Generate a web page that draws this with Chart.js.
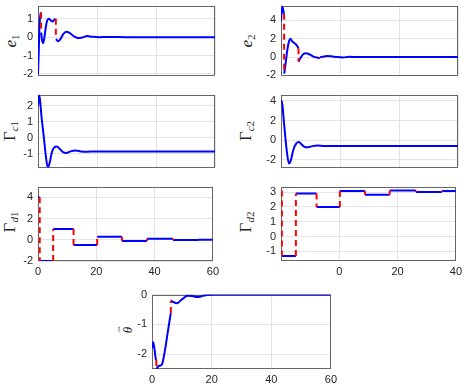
<!DOCTYPE html>
<html>
<head>
<meta charset="utf-8">
<script src="https://cdn.jsdelivr.net/npm/chart.js@4"></script>
<style>
body { margin: 0; background: #fff; }
#fig { position: relative; width: 463px; height: 386px; overflow: hidden; }
#fig canvas { position: absolute; }
.ylab { position: absolute; transform: translate(-50%, -50%) rotate(-90deg); font-family: 'Liberation Serif', serif; font-size: 17px; color: #262626; white-space: nowrap; line-height: 1; }
.ylab sub { font-size: 11px; vertical-align: -3px; }
.acc { position: relative; display: inline-block; font-style: italic; }
.til { position: absolute; left: 1px; top: -8px; font-size: 11px; font-style: normal; }
</style>
</head>
<body>
<div id="fig">
  <div class="ylab" style="left:11px;top:41px"><i>e</i><sub>1</sub></div>
  <div class="ylab" style="left:247px;top:41px"><i>e</i><sub>2</sub></div>
  <div class="ylab" style="left:10px;top:131px">Γ<sub><i>c</i>1</sub></div>
  <div class="ylab" style="left:246px;top:131px">Γ<sub><i>c</i>2</sub></div>
  <div class="ylab" style="left:10px;top:222px">Γ<sub><i>d</i>1</sub></div>
  <div class="ylab" style="left:246px;top:222px">Γ<sub><i>d</i>2</sub></div>
  <div class="ylab" style="left:127px;top:330px;font-size:13px"><span class="acc">θ<span class="til">~</span></span></div>
</div>
<script>
// x axis (time) ticks
const xTicks = [0, 20, 40, 60];
const xLabelsLeft = ["0", "20", "40", "60"];
const xLabelsRight = ["", "0", "20", "40"];

// e1
const e1T = [0, 0.25, 0.5, 0.8, 1.0, null, 1.1, 1.4, 1.7, 2.1, 2.6, 3.1, 3.7, 4.3, 5.0, 5.5, 6.0, null,
             6.1, 6.8, 7.6, 8.6, 9.6, 10.8, 12.2, 13.6, 15, 16.6, 18.3, 20.5, 24, 30, 40, 50, 60];
const e1Y = [-2, -0.8, 0.6, 1.2, 1.35, null, 0.25, -0.2, -0.33, -0.1, 0.5, 0.9, 1.0, 0.92, 0.85, 0.95, 1.0, null,
             -0.1, -0.22, -0.1, 0.18, 0.3, 0.22, 0.05, -0.05, -0.02, 0.06, 0.03, 0, 0.01, 0, 0, 0, 0];
const e1JumpT = [1.05, 1.05, null, 6.05, 6.05];
const e1JumpY = [1.35, 0.25, null, 1.0, 0.0];

// e2
const e2T = [0, 0.25, 0.45, 0.7, 1.0, null, 1.1, 1.6, 2.2, 2.8, 3.2, 3.8, 4.4, 5.0, 5.5, 5.9, null,
             5.95, 6.6, 7.5, 8.5, 9.6, 11, 12.5, 13.2, null, 13.25, 14.2, 15.5, 17, 19, 21, 23, 26, 40, 60];
const e2Y = [3.9, 5.0, 5.5, 5.2, 4.7, null, -1.8, -0.6, 0.9, 1.8, 2.0, 1.7, 1.55, 1.4, 1.2, 0.95, null,
             -0.5, -0.1, 0.3, 0.4, 0.3, 0.05, -0.08, -0.12, null, -0.02, 0.03, 0.1, 0.08, 0, -0.04, 0.02, 0, 0, 0];
const e2JumpT = [1.05, 1.05, null, 5.92, 5.92, null, 13.22, 13.22];
const e2JumpY = [4.7, -1.8, null, 0.95, -0.5, null, -0.12, -0.02];

// Gamma_c1, Gamma_c2
const gc1T = [0, 0.3, 0.6, 1.2, 2.0, 2.7, 3.3, 3.9, 4.7, 5.5, 6.4, 7.4, 8.5, 9.6, 11, 12.8, 14.5, 16.5, 20, 30, 45, 60];
const gc1Y = [2.0, 2.65, 2.5, 1.3, 0.0, -1.2, -1.85, -1.6, -0.9, -0.6, -0.55, -0.7, -0.9, -0.95, -0.85, -0.8, -0.85, -0.87, -0.85, -0.85, -0.85, -0.85];
const gc2T = [0, 0.3, 0.8, 1.4, 2.0, 2.7, 3.3, 4.2, 5.2, 6.1, 7.0, 8.0, 8.9, 10.2, 12.3, 14.5, 17, 25, 40, 60];
const gc2Y = [4.0, 4.0, 2.5, 0.5, -1.2, -2.4, -2.1, -1.0, -0.35, -0.2, -0.45, -0.7, -0.75, -0.65, -0.55, -0.6, -0.62, -0.6, -0.6, -0.6];

// Gamma_d1, Gamma_d2 (piecewise constant)
const gd1Switch = [0.6, 5.2, 12.2, 20.3, 28.8, 37.4, 46.3, 55];
const gd1Level = [4, -2, 1, -0.5, 0.27, -0.12, 0.09, -0.03, 0];
const gd2Switch = [0.3, 5.1, 12.2, 20.2, 28.8, 37.3, 46.3, 55.2];
const gd2Level = [3.1, -1.32, 2.9, 2.0, 3.08, 2.82, 3.1, 3.0, 3.08];

// theta tilde
const thT = [0, 0.4, 0.8, 1.2, 1.4, null, 1.5, 2.2, 3.3, 4.3, 5.3, 6.3, null,
             6.35, 7.2, 8.4, 9.6, 10.8, 11.9, 13.5, 15.2, 16.8, 18.5, 21, 30, 45, 60];
const thY = [-1.8, -1.6, -1.8, -2.12, -2.2, null, -2.5, -2.4, -2.35, -1.9, -1.25, -0.62, null,
             -0.2, -0.25, -0.29, -0.2, -0.1, -0.04, -0.05, -0.08, -0.05, -0.01, 0, 0, 0, 0];
const thJumpT = [1.45, 1.45, null, 6.32, 6.32];
const thJumpY = [-2.2, -2.5, null, -0.62, -0.2];

function pts(T, Y) {
    return T.map((t, i) => ({ x: t, y: Y[i] }));
}

// blue horizontal pieces and red vertical jumps from switch times / levels
function stepPieces(sw, lv) {
    const blue = [], red = [];
    lv.forEach((v, i) => {
        const a = i === 0 ? 0 : sw[i - 1];
        const b = i === sw.length ? 60 : sw[i];
        blue.push({ x: a, y: v }, { x: b, y: v }, { x: null, y: null });
        if (i < sw.length) red.push({ x: sw[i], y: v }, { x: sw[i], y: lv[i + 1] }, { x: null, y: null });
    });
    return [blue, red];
}

const frame = {
    id: "frame",
    beforeDatasetsDraw(chart) {
        const { ctx, chartArea: a } = chart;
        ctx.save();
        ctx.strokeStyle = "#666666";
        ctx.lineWidth = 1;
        ctx.strokeRect(Math.round(a.left) + 0.5, Math.round(a.top) + 0.5,
                       Math.round(a.right - a.left) - 1, Math.round(a.bottom - a.top) - 1);
        ctx.restore();
    }
};

const tickFont = { family: "'Liberation Sans', Arial, sans-serif", size: 11 };
const fig = document.getElementById("fig");

function panel(box, yMin, yMax, yTicks, xLabels, blue, red, smooth) {
    const [l, t, r, b] = box;
    const padL = 34, padT = 8, padR = 8, padB = xLabels ? 16 : 8;
    const c = document.createElement("canvas");
    c.width = r - l + padL + padR;
    c.height = b - t + padT + padB;
    c.style.left = (l - padL) + "px";
    c.style.top = (t - padT) + "px";
    fig.appendChild(c);

    new Chart(c, {
        type: "line",
        data: {
            datasets: [{
                data: blue,
                borderColor: "#0000ff",
                borderWidth: 2,
                pointRadius: 0,
                cubicInterpolationMode: smooth ? "monotone" : "default",
                tension: 0,
                order: 2
            }, {
                data: red,
                borderColor: "#ff0000",
                borderWidth: 2,
                borderDash: [6, 4],
                pointRadius: 0,
                order: 1
            }]
        },
        options: {
            responsive: false,
            animation: false,
            events: [],
            layout: { padding: { left: 0, top: padT, right: padR, bottom: xLabels ? 0 : padB } },
            plugins: { legend: { display: false }, tooltip: { enabled: false } },
            scales: {
                x: {
                    type: "linear", min: 0, max: 60,
                    afterBuildTicks: s => { s.ticks = xTicks.map(v => ({ value: v })); },
                    afterFit: s => { s.height = xLabels ? 16 : 0; },
                    grid: { color: "#e4e4e4", drawTicks: false },
                    border: { display: false },
                    ticks: {
                        display: !!xLabels, padding: 4, color: "#262626", font: tickFont,
                        maxRotation: 0, autoSkip: false,
                        callback: (v, i) => xLabels ? xLabels[i] : ""
                    }
                },
                y: {
                    type: "linear", min: yMin, max: yMax,
                    afterBuildTicks: s => { s.ticks = yTicks.map(v => ({ value: v })); },
                    afterFit: s => { s.width = padL; },
                    grid: { color: "#e4e4e4", drawTicks: false },
                    border: { display: false },
                    ticks: { padding: 5, color: "#262626", font: tickFont }
                }
            }
        },
        plugins: [frame]
    });
}

const gd1 = stepPieces(gd1Switch, gd1Level);
const gd2 = stepPieces(gd2Switch, gd2Level);

panel([38, 2, 215, 79], -2.08, 1.72, [-2, -1, 0, 1], null, pts(e1T, e1Y), pts(e1JumpT, e1JumpY), true);
panel([281, 2, 458, 79], -2, 5.6, [-2, 0, 2, 4], null, pts(e2T, e2Y), pts(e2JumpT, e2JumpY), true);
panel([38, 91, 215, 171], -1.85, 2.7, [-1, 0, 1, 2], null, pts(gc1T, gc1Y), [], true);
panel([281, 91, 458, 171], -2.8, 4.65, [-2, 0, 2, 4], null, pts(gc2T, gc2Y), [], true);
panel([38, 183, 215, 261], -2, 5, [-2, 0, 2, 4], xLabelsLeft, gd1[0], gd1[1], false);
panel([281, 183, 458, 261], -1.65, 3.37, [-1, 0, 1, 2, 3], xLabelsRight, gd2[0], gd2[1], false);
panel([152, 291, 333, 369], -2.5, 0, [-2, -1, 0], xLabelsLeft, pts(thT, thY), pts(thJumpT, thJumpY), true);
</script>
</body>
</html>
